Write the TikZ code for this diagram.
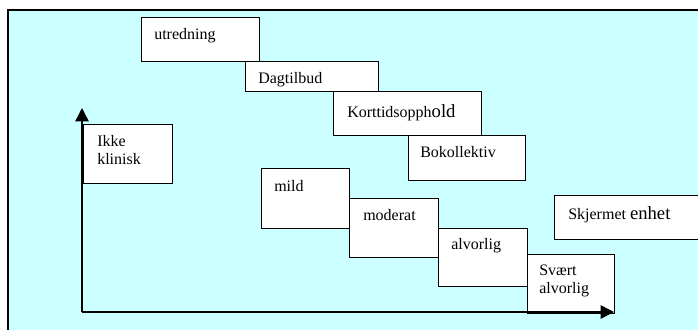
\documentclass[tikz,border=0pt]{standalone}
\usepackage{fontspec}
\setmainfont{Liberation Serif}
\usepackage{tikz}
\usetikzlibrary{arrows.meta}
\definecolor{lysbla}{RGB}{204,255,255}

\begin{document}
\begin{tikzpicture}[x=0.75pt,y=-0.75pt,
    boks/.style={draw, fill=white, line width=1pt, anchor=north west, inner sep=0pt},
    tekst/.style={anchor=base west, inner sep=0pt, align=left, font=\fontsize{12}{13.5}\selectfont},
    akse/.style={line width=1.1pt, -{Triangle[length=10pt,width=10pt]}}]
  \useasboundingbox (0,0) rectangle (698,329);
  \clip (0,0) rectangle (698,329);
  \draw[line width=1.1pt, fill=lysbla] (8,10) rectangle (720,350);
  % tilbud
  \node[boks, minimum width=88.5pt, minimum height=33pt] (utredning) at (141,17) {};
  \node[tekst] (utredningtxt) at ([shift={(13,22)}]utredning.north west) {utredning};
  \node[boks, minimum width=99.75pt, minimum height=22.5pt] (dagtilbud) at (245,61) {};
  \node[tekst] (dagtilbudtxt) at ([shift={(13,22)}]dagtilbud.north west) {Dagtilbud};
  \node[boks, minimum width=111pt, minimum height=33pt] (korttid) at (333,91) {};
  \node[tekst] (korttidtxt) at ([shift={(14,26)}]korttid.north west) {Korttidsopph{\fontsize{14}{16}\selectfont old}};
  \node[boks, minimum width=87.75pt, minimum height=33.75pt] (bokollektiv) at (408,135) {};
  \node[tekst] (bokollektivtxt) at ([shift={(12,22)}]bokollektiv.north west) {Bokollektiv};
  % grader (base = siste linje)
  \node[boks, minimum width=66.75pt, minimum height=44.25pt] (ikke) at (83,124) {};
  \node[tekst] (ikketxt) at ([shift={(14,40)}]ikke.north west) {Ikke\\klinisk};
  \node[boks, minimum width=66pt, minimum height=45pt] (mild) at (261,168) {};
  \node[tekst] (mildtxt) at ([shift={(13,23)}]mild.north west) {mild};
  \node[boks, minimum width=66.75pt, minimum height=44.25pt] (moderat) at (349,198) {};
  \node[tekst] (moderattxt) at ([shift={(14,22)}]moderat.north west) {moderat};
  \node[boks, minimum width=66.75pt, minimum height=43.5pt] (alvorlig) at (438,228) {};
  \node[tekst] (alvorligtxt) at ([shift={(13,21)}]alvorlig.north west) {alvorlig};
  \node[boks, minimum width=65.25pt, minimum height=44.25pt] (svaert) at (527,254) {};
  \node[tekst] (svaerttxt) at ([shift={(12,39)}]svaert.north west) {Svært\\alvorlig};
  \node[boks, minimum width=117pt, minimum height=33pt] (skjermet) at (554,195) {};
  \node[tekst] (skjermettxt) at ([shift={(14,24)}]skjermet.north west) {Skjermet {\fontsize{14}{16}\selectfont enhet}};
  % akser
  \coordinate (origo) at (82,312);
  \coordinate (ytopp) at (82,108);
  \coordinate (xslutt) at (614,312);
  \draw[akse] (origo) -- (ytopp);
  \draw[akse] (origo) -- (xslutt);
\end{tikzpicture}
\end{document}
